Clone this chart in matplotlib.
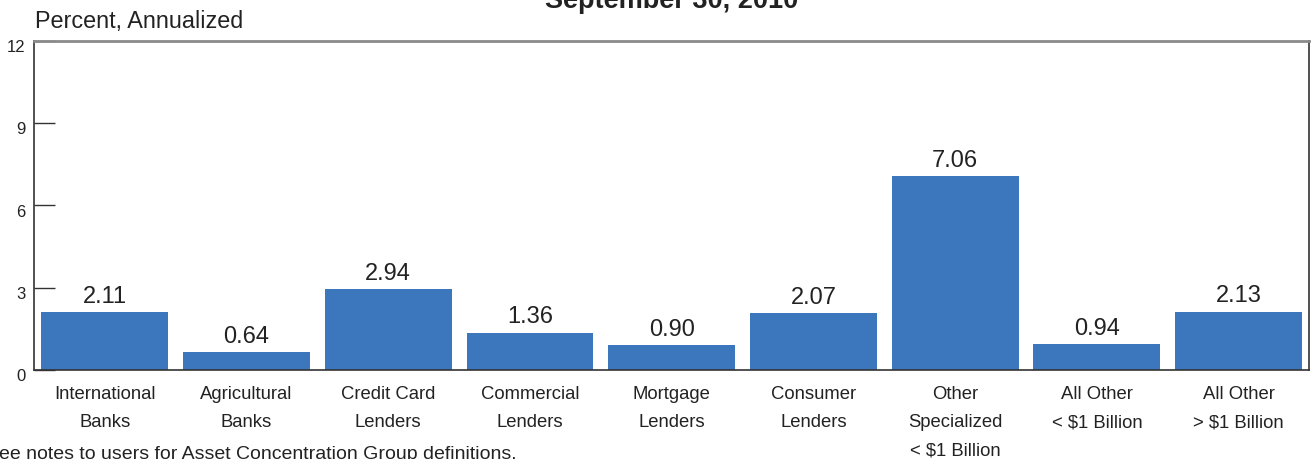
import matplotlib
matplotlib.use("Agg")
import matplotlib.pyplot as plt
from matplotlib.transforms import ScaledTranslation

plt.rcParams['font.family'] = ['Liberation Sans', 'DejaVu Sans']

categories = ["International\nBanks", "Agricultural\nBanks", "Credit Card\nLenders",
              "Commercial\nLenders", "Mortgage\nLenders", "Consumer\nLenders",
              "Other\nSpecialized\n< $1 Billion", "All Other\n< $1 Billion",
              "All Other\n> $1 Billion"]
values = [2.11, 0.64, 2.94, 1.36, 0.90, 2.07, 7.06, 0.94, 2.13]
yticks = [0, 3, 6, 9, 12]

fig = plt.figure(figsize=(13.14, 4.6), dpi=100)
ax = fig.add_axes([0.0259, 0.1935, 0.9706, 0.7152])

x = range(len(values))
bars = ax.bar(x, values, width=0.895, color="#3C77BE", zorder=2)
for xi, v in zip(x, values):
    ax.annotate(f"{v:.2f}", (xi, v), xytext=(0, 4), textcoords="offset points",
                ha="center", va="bottom", fontsize=17, color="#222222")

ax.set_xlim(-0.5, len(values) - 0.5)
ax.set_ylim(0, 12)
ax.set_yticks(yticks)
ax.set_yticklabels([str(t) for t in yticks], fontsize=12, color="#222222")
ax.tick_params(axis="y", direction="in", length=15, width=1, color="#333333", pad=6)
# labels sit a little below their ticks in the original
shift = ScaledTranslation(0, -3 / 72, fig.dpi_scale_trans)
for lbl in ax.get_yticklabels():
    lbl.set_transform(lbl.get_transform() + shift)
ax.set_xticks(list(x))
ax.set_xticklabels(categories, fontsize=13.3, color="#222222", linespacing=1.88, va="top")
ax.tick_params(axis="x", length=0, pad=10.5)

for s in ["left", "bottom", "right"]:
    ax.spines[s].set_color("#333333")
    ax.spines[s].set_linewidth(1.2)
ax.spines["top"].set_color("#8a8a8a")
ax.spines["top"].set_linewidth(2)

fig.text(0.0266, 0.954, "Percent, Annualized", fontsize=16.8, color="#222222",
         ha="left", va="center")
fig.text(0.511, 0.983, "September 30, 2010", fontsize=19.5, fontweight="bold",
         color="#222222", ha="center", va="baseline")
fig.text(-0.0105, 0.012, "See notes to users for Asset Concentration Group definitions.",
         fontsize=14, color="#222222", ha="left", va="center")

fig.savefig("out.png", dpi=100)
